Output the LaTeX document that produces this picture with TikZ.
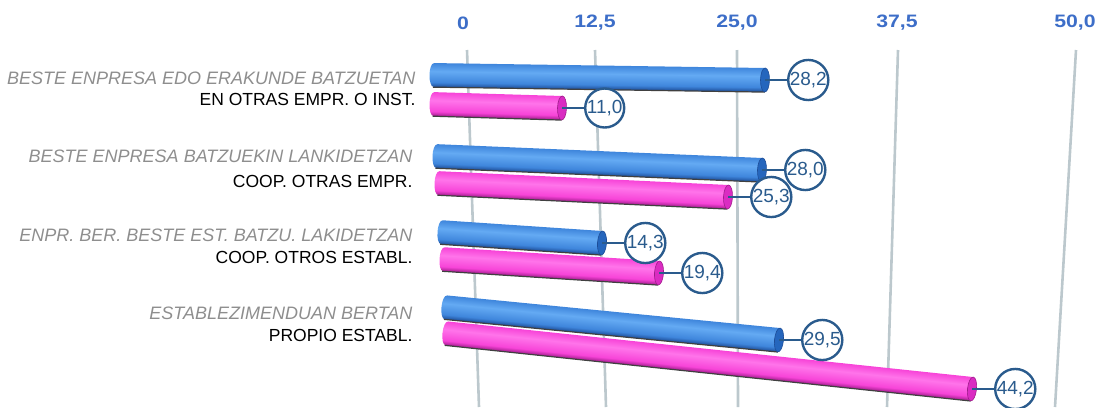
\documentclass[tikz,border=0pt]{standalone}
\usepackage{fontspec}
\setmainfont{Liberation Sans}
\newfontfamily\widefont[FakeStretch=1.18]{Liberation Sans}
\usepackage{xcolor}
\usepackage{tikz}
\usetikzlibrary{positioning}

\definecolor{bluedk}{HTML}{1D4D98}
\definecolor{bluemd}{HTML}{3F86DC}
\definecolor{bluelt}{HTML}{64AAF3}
\definecolor{bluecap}{HTML}{2566BD}
\definecolor{pinkdk}{HTML}{A01C8C}
\definecolor{pinkmd}{HTML}{F744D8}
\definecolor{pinklt}{HTML}{FF74EA}
\definecolor{pinkcap}{HTML}{DA2CC2}
\definecolor{valblue}{HTML}{2A5B8D}
\definecolor{axisblue}{HTML}{3D6EC8}
\definecolor{eugray}{HTML}{8E8E8E}
\definecolor{gridc}{HTML}{BCC8CD}

\pgfdeclareverticalshading{bluecyl}{100bp}{color(0bp)=(bluedk); color(25bp)=(bluedk); color(35bp)=(bluemd); color(58bp)=(bluelt); color(75bp)=(bluemd); color(100bp)=(bluemd)}
\pgfdeclareverticalshading{pinkcyl}{100bp}{color(0bp)=(pinkdk); color(25bp)=(pinkdk); color(35bp)=(pinkmd); color(58bp)=(pinklt); color(75bp)=(pinkmd); color(100bp)=(pinkmd)}

% bar from (x1,y1) to (x2,y2), end point kept as coordinate #1
\newcommand\cyl[6]{%
  \pgfmathsetmacro\cylang{atan2(#5-#3,#4-#2)}%
  \pgfmathsetmacro\cyllen{veclen(#4-#2,#5-#3)}%
  \coordinate (#1) at (#4,#5);
  \begin{scope}[transform canvas={shift={(#2,#3)},rotate=-\cylang}]
    \shade[shading=#6cyl] (\cyllen,-12) -- (4,-12) .. controls (-2,-12) and (-2,12) .. (4,12) -- (\cyllen,12) -- cycle;
    \draw[black!75, line width=1.2pt] (3,12.1) -- (\cyllen,12.1);
    \filldraw[fill=#6cap, draw=#6dk, line width=0.6pt] (\cyllen,0) ellipse[x radius=4.5, y radius=12];
  \end{scope}}

\begin{document}
\begin{tikzpicture}[x=1pt, y=-1pt,
    tick/.style={text=axisblue, font=\widefont\bfseries\fontsize{18}{20}\selectfont},
    grid/.style={draw=gridc, line width=2.6pt},
    eu/.style={anchor=east, text=eugray, font=\itshape\fontsize{18}{20}\selectfont},
    es/.style={anchor=east, text=black, font=\fontsize{17.5}{20}\selectfont},
    val/.style={draw=valblue, circle, line width=2.4pt, fill=white, text=valblue,
      inner sep=0pt, minimum size=39pt, font=\fontsize{19}{22}\selectfont},
    lead/.style={draw=valblue, line width=2.8pt}
]
\useasboundingbox (0,0) rectangle (1097,407);

\foreach \lab/\xl/\xt/\xb [count=\i] in {0/463/467/479, {12,5}/595/595/606, {25,0}/737/737/738, {37,5}/897/898/887, {50,0}/1075/1076/1055} {
  \node[tick] (t\i) at (\xl,23) {\lab};
  \draw[grid] (\xt,50) -- (\xb,407);
}

\node[eu] (eu1) at (419,78) {BESTE ENPRESA EDO ERAKUNDE BATZUETAN};
\node[es] (es1) at (419,99) {EN OTRAS EMPR. O INST.};
\node[eu] (eu2) at (416,156) {BESTE ENPRESA BATZUEKIN LANKIDETZAN};
\node[es] (es2) at (416,181) {COOP. OTRAS EMPR.};
\node[eu] (eu3) at (416,235) {ENPR. BER. BESTE EST. BATZU. LAKIDETZAN};
\node[es] (es3) at (416,257) {COOP. OTROS ESTABL.};
\node[eu] (eu4) at (416,313) {ESTABLEZIMENDUAN BERTAN};
\node[es] (es4) at (416,335) {PROPIO ESTABL.};

\cyl{b1}{430}{75}{765}{80}{blue}
\cyl{p1}{430}{104}{562}{108}{pink}
\cyl{b2}{433}{156}{762}{170}{blue}
\cyl{p2}{435}{183}{728}{197}{pink}
\cyl{b3}{438}{232}{602}{243}{blue}
\cyl{p3}{440}{259}{659}{273}{pink}
\cyl{b4}{442}{307}{779}{340}{blue}
\cyl{p4}{443}{333}{972}{389}{pink}

\foreach \b/\v in {b1/{28,2}, p1/{11,0}, b2/{28,0}, p2/{25,3}, b3/{14,3}, p3/{19,4}, b4/{29,5}, p4/{44,2}} {
  \node[val, right=22pt of \b] (v\b) {\v};
  \draw[lead] (\b) -- (v\b);
}
\end{tikzpicture}
\end{document}
